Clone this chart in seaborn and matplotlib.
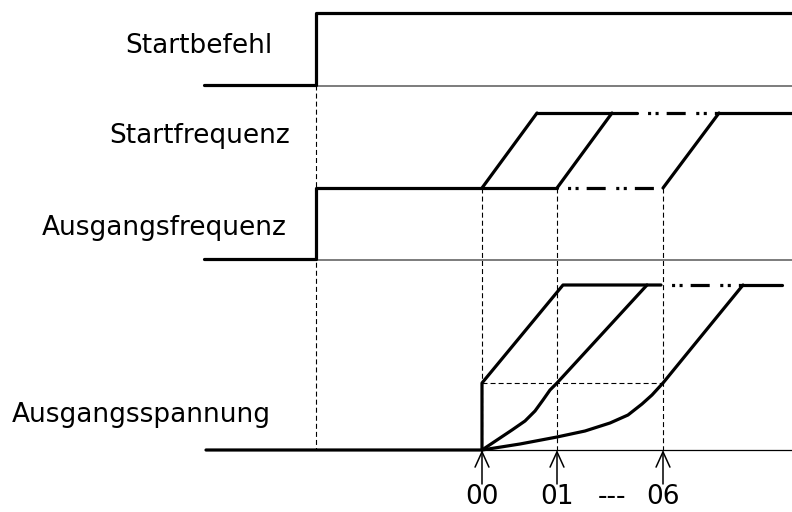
import numpy as np
import pandas as pd
import matplotlib.pyplot as plt
import seaborn as sns

# Zeitachse (Pixel-Koordinaten des Diagramms)
t_left = 204
t_base = 230
t_end = 792
t_cmd = 316                     # Startbefehl
t_sel = [482, 557, 663]         # Startzeitpunkte 00, 01, 06
sel_labels = ['00', '01', '---', '06']
sel_label_x = [482, 557, 612, 663]

# Pegel (y nach unten)
cmd_low, cmd_high = 85, 13
frq_low, frq_high = 259, 188
sf_low, sf_high = 188, 113
sp_low, sp_mid, sp_high = 450, 383, 285

# Startfrequenz-Rampen
sf_ramp_end = [537, 612, 719]
sf_solid_end = 637

# Ausgangsspannung
sp_ramp_end = [563, 647, 743]
sp_solid_end = 661
sp_end = 782
curve01_x = [482, 497, 512, 525, 535, 543, 550, 557]
curve01_y = [450, 440, 430, 421, 411, 400, 390, 383]
curve06_x = [482, 520, 557, 585, 610, 628, 642, 652, 663]
curve06_y = [450, 444, 437, 431, 423, 415, 404, 395, 383]

signal_names = ['Startbefehl', 'Startfrequenz', 'Ausgangsfrequenz', 'Ausgangsspannung']
name_x = [125, 109, 42, 12]
name_y = [46, 136, 228, 415]

sns.set_style('white')
plt.rcParams['font.family'] = ['DejaVu Sans']
plt.rcParams['text.color'] = 'black'
plt.rcParams['lines.scale_dashes'] = False

fig = plt.figure(figsize=(7.92, 5.12), dpi=100)
ax = fig.add_axes([0, 0, 1, 1])

lw = 2.3
dd_seq = (2.2, 3.2, 2.2, 5.8, 13.7, 7.6)
dash2 = (sum(dd_seq) - dd_seq[-1], dd_seq)


def line(xs, ys, **kw):
    kw.setdefault('color', 'black')
    kw.setdefault('lw', lw)
    sns.lineplot(x=xs, y=ys, sort=False, estimator=None, ax=ax, **kw)


# dünne Grundlinien
line([t_base, t_end], [cmd_low + 1, cmd_low + 1], color='#666666', lw=1.2)
line([t_base, t_end], [frq_low + 1, frq_low + 1], color='#666666', lw=1.2)
line([t_sel[0], t_end], [sp_low, sp_low], color='black', lw=0.9)

# Hilfslinien gestrichelt
dash_kw = dict(color='black', lw=0.8, linestyle=(0, (3.6, 2.2)))
line([t_cmd, t_cmd], [cmd_low, sp_low], **dash_kw)
for t in t_sel:
    line([t, t], [sf_low, sp_low], **dash_kw)
line([t_sel[0], t_sel[2]], [sp_mid, sp_mid], **dash_kw)

# Startbefehl
line([t_left, t_cmd, t_cmd, t_end], [cmd_low, cmd_low, cmd_high, cmd_high])

# Ausgangsfrequenz
line([t_left, t_cmd, t_cmd, t_sel[1]], [frq_low, frq_low, sf_low, sf_low])
line([t_sel[1], t_sel[2]], [sf_low, sf_low], linestyle=dash2)

# Startfrequenz
for t0, t1 in zip(t_sel, sf_ramp_end):
    line([t0, t1], [sf_low, sf_high])
line([sf_ramp_end[0], sf_solid_end], [sf_high, sf_high])
line([sf_solid_end, sf_ramp_end[2]], [sf_high, sf_high], linestyle=dash2)
line([sf_ramp_end[2], t_end], [sf_high, sf_high])

# Ausgangsspannung
line([t_left + 2, t_sel[0], t_sel[0], sp_ramp_end[0], sp_solid_end],
     [sp_low, sp_low, sp_mid, sp_high, sp_high])
line(curve01_x + [sp_ramp_end[1]], curve01_y + [sp_high])
line(curve06_x + [sp_ramp_end[2]], curve06_y + [sp_high])
line([sp_solid_end, sp_ramp_end[2]], [sp_high, sp_high], linestyle=dash2)
line([sp_ramp_end[2], sp_end], [sp_high, sp_high])

# Pfeile
for t in t_sel:
    ax.annotate('', xy=(t, sp_low), xytext=(t, 484),
                arrowprops=dict(arrowstyle='->,head_length=1.1,head_width=0.5',
                                color='black', lw=1.1, shrinkA=0, shrinkB=0))
for lab, x in zip(sel_labels, sel_label_x):
    ax.text(x, 497, lab, ha='center', va='center', fontsize=19)

for name, x, y in zip(signal_names, name_x, name_y):
    ax.text(x, y, name, ha='left', va='center', fontsize=19)

ax.set_xlim(0, 792)
ax.set_ylim(512, 0)
ax.axis('off')
fig.savefig('out.png', dpi=100)
